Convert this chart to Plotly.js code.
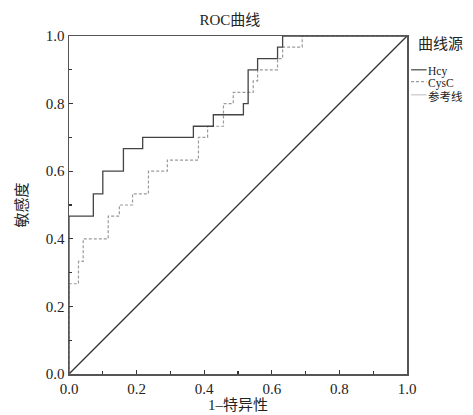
<!DOCTYPE html>
<html>
<head>
<meta charset="utf-8">
<script src="https://cdn.plot.ly/plotly-3.0.1.min.js"></script>
<style>html,body{margin:0;padding:0;background:#fff;}#chart{width:473px;height:415px;}</style>
</head>
<body>
<div id="chart"></div>
<script>
// Hcy ROC curve (1-specificity, sensitivity)
var hcyX = [0, 0, 0.072, 0.100, 0.161, 0.218, 0.368, 0.427, 0.516, 0.530, 0.558, 0.617, 0.632, 1.0];
var hcyY = [0, 0.467, 0.533, 0.600, 0.667, 0.700, 0.733, 0.767, 0.800, 0.900, 0.933, 0.967, 1.0, 1.0];
// CysC ROC curve
var cysX = [0, 0, 0.028, 0.042, 0.116, 0.149, 0.188, 0.235, 0.291, 0.383, 0.410, 0.457, 0.486, 0.545, 0.558, 0.617, 0.632, 0.690, 1.0];
var cysY = [0, 0.267, 0.333, 0.400, 0.467, 0.500, 0.533, 0.600, 0.633, 0.700, 0.733, 0.800, 0.833, 0.867, 0.900, 0.933, 0.967, 1.0, 1.0];
// reference line
var refX = [0, 1];
var refY = [0, 1];
var tickVals = [0, 0.2, 0.4, 0.6, 0.8, 1.0];
var tickText = ['0.0', '0.2', '0.4', '0.6', '0.8', '1.0'];
var legendTitle = '曲线源';
var seriesNames = ['Hcy', 'CysC', '参考线'];

var serif = 'Liberation Serif, Times New Roman, Noto Sans CJK SC, serif';

var traces = [
  {x: refX, y: refY, mode: 'lines', line: {color: '#333', width: 1.3}, hoverinfo: 'skip'},
  {x: cysX, y: cysY, mode: 'lines', line: {color: '#9a9a9a', width: 1.2, dash: '3px,2px', shape: 'hv'}},
  {x: hcyX, y: hcyY, mode: 'lines', line: {color: '#444', width: 1.3, shape: 'hv'}}
];

var axisCommon = {
  range: [0, 1], tickvals: tickVals, ticktext: tickText,
  ticks: 'inside', ticklen: 4, tickwidth: 1.2, tickcolor: '#333',
  minor: {dtick: 0.1, ticks: 'inside', ticklen: 3, tickcolor: '#333'},
  showline: true, linecolor: '#555', linewidth: 1.5, mirror: true,
  showgrid: false, zeroline: false,
  tickfont: {family: serif, size: 15, color: '#222'}
};

var xaxis = Object.assign({}, axisCommon, {
  title: {text: '1–特异性', font: {family: serif, size: 15, color: '#222'}, standoff: 2}
});
var yaxis = Object.assign({}, axisCommon, {
  title: {text: '敏感度', font: {family: serif, size: 15, color: '#222'}, standoff: 14}
});

// manual legend (lines + text) in paper coords
var legY = [0.9, 0.865, 0.826];
var legColors = ['#444', '#9a9a9a', '#c8c8c8'];
var legDash = ['solid', '3px,2px', 'solid'];
var shapes = [];
var annotations = [
  {xref: 'paper', yref: 'paper', x: 1.026, y: 0.975, xanchor: 'left', yanchor: 'middle', showarrow: false,
   text: legendTitle, font: {family: serif, size: 15, color: '#222'}}
];
for (var i = 0; i < seriesNames.length; i++) {
  shapes.push({type: 'line', xref: 'paper', yref: 'paper', x0: 1.012, x1: 1.058, y0: legY[i], y1: legY[i],
    line: {color: legColors[i], width: 1.2, dash: legDash[i]}});
  annotations.push({xref: 'paper', yref: 'paper', x: 1.056, y: legY[i] - 0.006, xanchor: 'left', yanchor: 'middle',
    showarrow: false, text: seriesNames[i], font: {family: serif, size: 11.5, color: '#222'}});
}

var layout = {
  width: 473, height: 415,
  margin: {l: 69, r: 66, t: 36, b: 41},
  paper_bgcolor: '#fff', plot_bgcolor: '#fff',
  showlegend: false,
  title: {text: 'ROC曲线', font: {family: serif, size: 15, color: '#222'}, x: 0.486, xanchor: 'center', y: 0.952, yanchor: 'middle'},
  xaxis: xaxis, yaxis: yaxis,
  shapes: shapes, annotations: annotations
};

Plotly.newPlot('chart', traces, layout, {displayModeBar: false, staticPlot: true});
</script>
</body>
</html>
